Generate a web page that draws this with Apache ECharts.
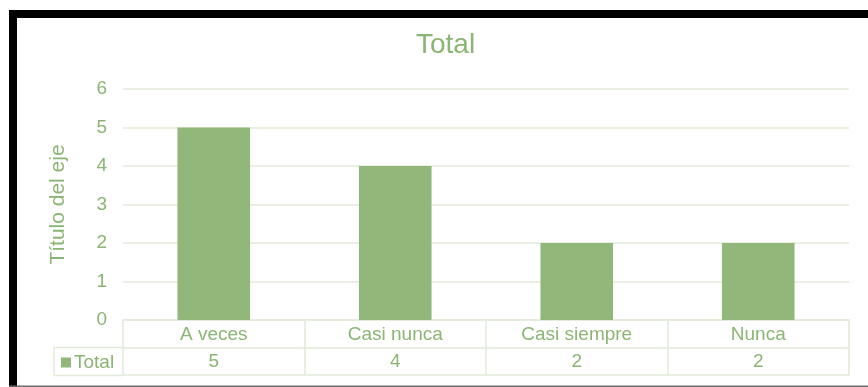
<!DOCTYPE html>
<html>
<head>
<meta charset="utf-8">
<style>
  html, body { margin: 0; padding: 0; background: #ffffff; }
  #chart { width: 868px; height: 387px; }
</style>
<script src="https://cdn.jsdelivr.net/npm/echarts@6/dist/echarts.min.js"></script>
</head>
<body>
<div id="chart"></div>
<script>
// Response categories and counts
const categories = ['A veces', 'Casi nunca', 'Casi siempre', 'Nunca'];
const totals = [5, 4, 2, 2];
const seriesName = 'Total';
const yTicks = { min: 0, max: 6, interval: 1 };

const FONT = '"Liberation Sans", Arial, sans-serif';
const TEXT = '#8bb574';
const BAR = '#92b77a';
const LINE = '#e2ebda';
const LABEL_SIZE = 19;

const chart = echarts.init(document.getElementById('chart'), null, { renderer: 'canvas' });

// Shared settings for the stacked x axes that form the data table
function tableAxis(offset, labelFn, showLabel) {
  return {
    type: 'category',
    data: categories,
    position: 'bottom',
    offset: offset,
    gridIndex: 0,
    axisLine: { show: true, lineStyle: { color: LINE, width: 1.5 } },
    axisTick: { show: false },
    axisLabel: {
      show: showLabel,
      color: TEXT,
      fontFamily: FONT,
      fontSize: LABEL_SIZE,
      margin: 5,
      formatter: labelFn
    },
    splitLine: { show: false }
  };
}

const option = {
  backgroundColor: '#ffffff',
  animation: false,
  title: {
    text: 'Total',
    left: 416,
    top: 31,
    padding: 0,
    textStyle: { color: TEXT, fontFamily: FONT, fontSize: 28, fontWeight: 'normal' }
  },
  legend: {
    data: [seriesName],
    left: 56,
    top: 348,
    icon: 'rect',
    itemWidth: 10,
    itemHeight: 10,
    itemGap: 4,
    textStyle: { color: TEXT, fontFamily: FONT, fontSize: LABEL_SIZE, padding: [0, 0, 0, -2] }
  },
  grid: { left: 123, right: 19, top: 89, bottom: 67, containLabel: false },
  xAxis: [
    {
      type: 'category',
      data: categories,
      position: 'bottom',
      gridIndex: 0,
      axisLine: { show: true, lineStyle: { color: LINE, width: 1.5 } },
      axisTick: { show: true, length: 55, alignWithLabel: false, lineStyle: { color: LINE, width: 1.5 } },
      axisLabel: { color: TEXT, fontFamily: FONT, fontSize: LABEL_SIZE, margin: 5 },
      splitLine: { show: false }
    },
    tableAxis(27.5, (v, i) => String(totals[i]), true),
    tableAxis(55, null, false)
  ],
  yAxis: {
    type: 'value',
    min: yTicks.min,
    max: yTicks.max,
    interval: yTicks.interval,
    name: 'Título del eje',
    nameLocation: 'middle',
    nameRotate: 90,
    nameGap: 54,
    nameTextStyle: { color: TEXT, fontFamily: FONT, fontSize: 21 },
    axisLine: { show: false },
    axisTick: { show: false },
    axisLabel: { color: TEXT, fontFamily: FONT, fontSize: LABEL_SIZE, margin: 16 },
    splitLine: { lineStyle: { color: LINE, width: 1.5 } }
  },
  series: [{
    name: seriesName,
    type: 'bar',
    xAxisIndex: 0,
    data: totals,
    barWidth: '40%',
    itemStyle: { color: BAR }
  }],
  graphic: [
    // frame edges
    { type: 'rect', shape: { x: 9, y: 10, width: 859, height: 8 }, style: { fill: '#000000' }, silent: true },
    { type: 'rect', shape: { x: 9, y: 10, width: 8, height: 377 }, style: { fill: '#000000' }, silent: true },
    { type: 'rect', shape: { x: 9, y: 385.5, width: 859, height: 1.5 }, style: { fill: '#6b6b6b' }, silent: true },
    // legend cell of the data table
    { type: 'polyline', shape: { points: [[123, 347.5], [54, 347.5], [54, 375.5], [123, 375.5]] },
      style: { stroke: LINE, lineWidth: 1.5, fill: null }, silent: true }
  ]
};

chart.setOption(option);
</script>
</body>
</html>
